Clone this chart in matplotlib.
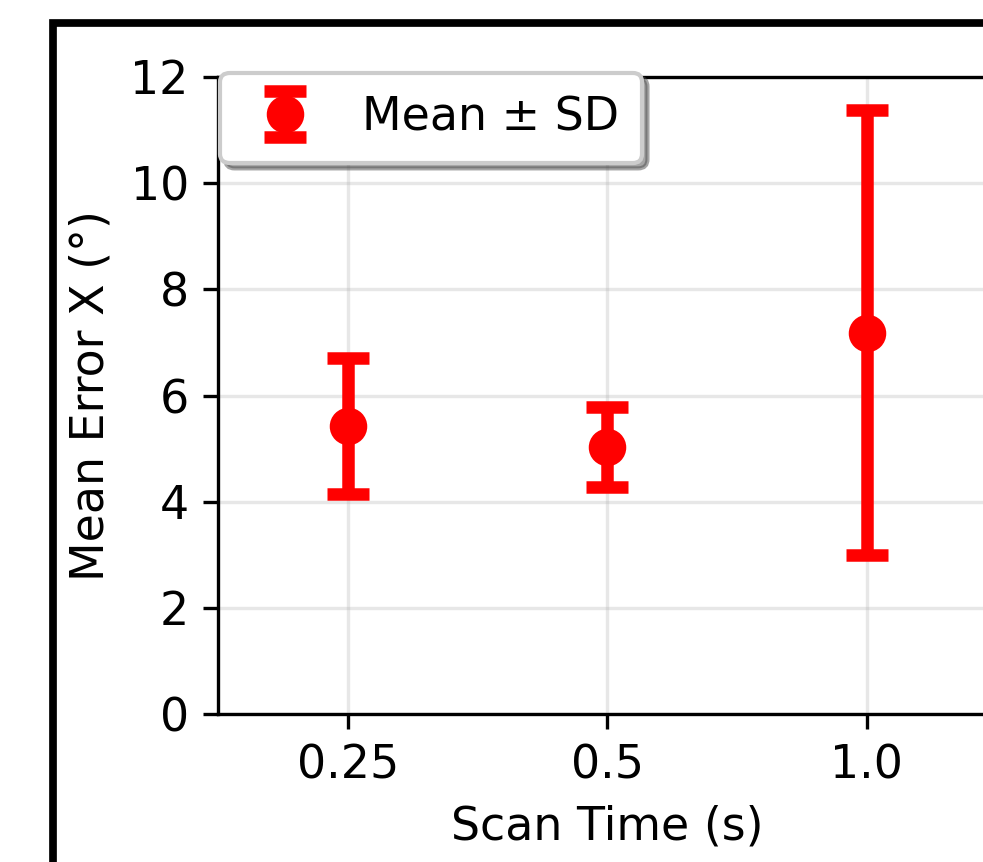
import matplotlib
matplotlib.use("Agg")
import matplotlib.pyplot as plt
from matplotlib.patches import Rectangle

# values
scan_times = ["0.25", "0.5", "1.0"]
mean_error_x = [5.42, 5.03, 7.18]
sd_error_x = [1.28, 0.76, 4.19]

plt.rcParams['font.size'] = 11

fig = plt.figure(figsize=(984 / 300, 862 / 300), dpi=300)
ax = fig.add_axes([218 / 984, 148 / 862, 778.5 / 984, 637 / 862])

x = range(len(scan_times))
ax.errorbar(x, mean_error_x, yerr=sd_error_x, fmt='o', color='red',
            markersize=8, capsize=5, capthick=3, elinewidth=3,
            label='Mean ± SD')

ax.set_xticks(list(x))
ax.set_xticklabels(scan_times)
ax.set_xlim(-0.5, len(scan_times) - 0.5)
ax.set_ylim(0, 12)
ax.set_xlabel("Scan Time (s)")
ax.set_ylabel("Mean Error X (°)")
ax.grid(True, alpha=0.3)
ax.legend(loc='upper left', bbox_to_anchor=(0.003, 1.007), borderaxespad=0,
          borderpad=0.5, handlelength=1.8, shadow={'ox': 1.2, 'oy': -1.2})

# thick frame around the panel (cut off at the right and bottom)
fig.add_artist(Rectangle((53 / 984, -0.5), 2, 1.5 - 23 / 862, fill=False,
                         edgecolor='black', linewidth=1.85,
                         transform=fig.transFigure))

fig.savefig("out.png", dpi=300)
